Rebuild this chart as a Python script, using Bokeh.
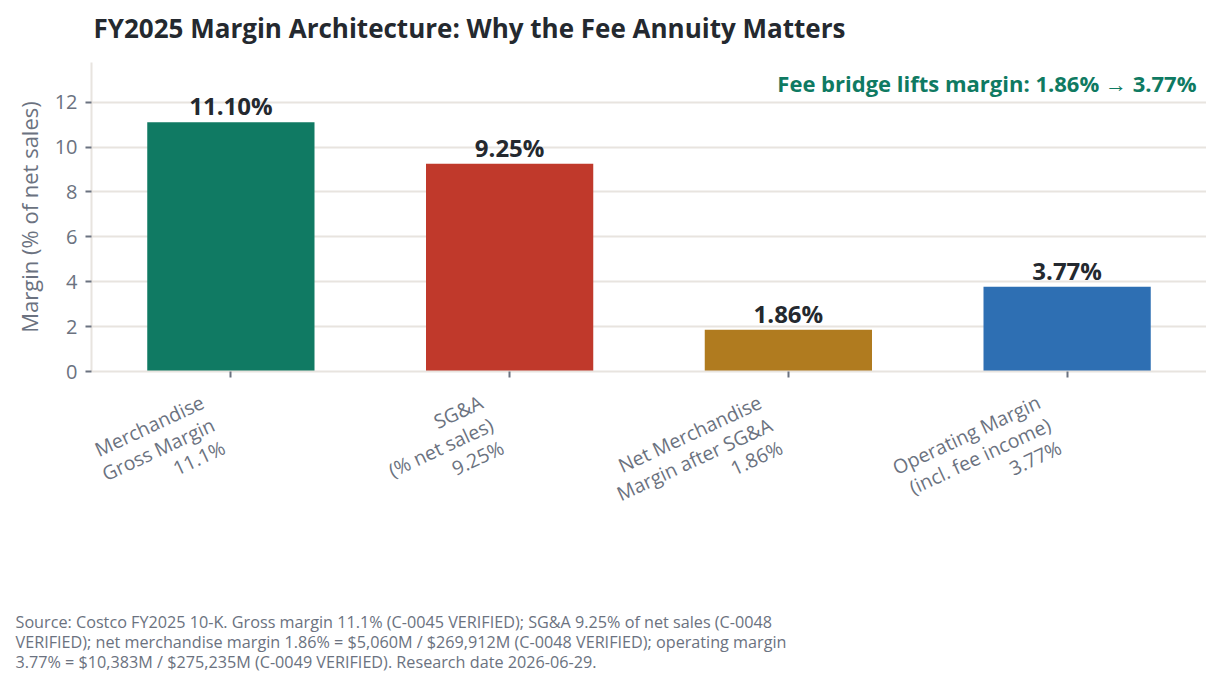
import math
from bokeh.plotting import figure
from bokeh.layouts import column
from bokeh.models import ColumnDataSource, Label, LabelSet, FactorRange, Range1d, Title
from bokeh.core.properties import value
from bokeh.embed import file_html
from bokeh.resources import INLINE

categories = ["Merchandise Gross Margin", "SG&A", "Net Merchandise Margin", "Operating Margin"]
tick_labels = ["Merchandise\nGross Margin\n11.1%", "SG&A\n(% net sales)\n9.25%",
               "Net Merchandise\nMargin after SG&A\n1.86%", "Operating Margin\n(incl. fee income)\n3.77%"]
values = [11.10, 9.25, 1.86, 3.77]
bar_colors = ["#107a63", "#c0392b", "#b07b1f", "#2e6fb3"]
yticks = [0, 2, 4, 6, 8, 10, 12]
title_text = "FY2025 Margin Architecture: Why the Fee Annuity Matters"
note_text = "Fee bridge lifts margin: 1.86% \u2192 3.77%"
source_lines = [
    "Source: Costco FY2025 10-K. Gross margin 11.1% (C-0045 VERIFIED); SG&A 9.25% of net sales (C-0048",
    "VERIFIED); net merchandise margin 1.86% = $5,060M / $269,912M (C-0048 VERIFIED); operating margin",
    "3.77% = $10,383M / $275,235M (C-0049 VERIFIED). Research date 2026-06-29.",
]

FONT = "Open Sans"
GRAY = "#6b7280"
DARK = "#24292f"
LIGHT = "#e8e4df"
W = 1206
LEFT = 91
HEAD_H, MAIN_H, STRIP_H = 62, 321, 290
ANGLE = math.radians(25)
LINE_STEP = 25  # px between rotated label lines

# header
head = figure(width=W, height=HEAD_H, x_range=(0, 1), y_range=(0, 1), output_backend="svg",
              toolbar_location=None, x_axis_location=None, y_axis_location=None,
              min_border_left=LEFT, min_border_right=0, min_border_top=0, min_border_bottom=0)
head.outline_line_color = None
head.grid.visible = False
head.add_layout(Label(x=2, y=35, x_units="screen", y_units="screen", text=title_text,
                      text_align="left", text_baseline="alphabetic", text_font=FONT,
                      text_font_size="26px", text_font_style="bold", text_color=DARK))

# main chart
split = [t.split("\n") for t in tick_labels]
src = ColumnDataSource(dict(cat=categories, val=values, color=bar_colors,
                            l0=[s[0] for s in split], l1=[s[1] for s in split],
                            l2=[s[2] for s in split],
                            lab=[f"{v:.2f}%" for v in values]))
y_top = max(values) * 1.24

p = figure(x_range=FactorRange(*categories), y_range=Range1d(0, y_top),
           width=W, height=MAIN_H, output_backend="svg", toolbar_location=None,
           min_border_left=LEFT, min_border_right=0, min_border_top=0, min_border_bottom=12)

p.vbar(x="cat", top="val", width=0.6, color="color", source=src, line_color=None)
p.text(x="cat", y="val", text="lab", source=src, text_align="center", text_baseline="bottom",
       text_font=value(FONT), text_font_size="24px", text_font_style="bold",
       text_color=DARK)

p.add_layout(Label(x=len(categories), y=y_top, x_offset=-10, y_offset=-20,
                   text=note_text, text_align="right", text_baseline="alphabetic",
                   text_font=FONT, text_font_size="22px", text_font_style="bold",
                   text_color="#0f7a62"))

p.outline_line_color = None
p.xgrid.grid_line_color = None
p.ygrid.grid_line_color = LIGHT
p.ygrid.grid_line_width = 2
p.yaxis.ticker = yticks
p.yaxis.axis_label = "Margin (% of net sales)"
p.yaxis.axis_label_text_font = FONT
p.yaxis.axis_label_text_font_size = "22px"
p.yaxis.axis_label_text_font_style = "normal"
p.yaxis.axis_label_text_color = GRAY
p.yaxis.axis_label_standoff = 8
for ax in (p.xaxis, p.yaxis):
    ax.axis_line_color = LIGHT
    ax.axis_line_width = 2
    ax.major_tick_line_color = GRAY
    ax.major_tick_line_width = 2
    ax.major_tick_out = 6
    ax.major_tick_in = 0
    ax.minor_tick_line_color = None
    ax.major_label_text_font = FONT
    ax.major_label_text_color = GRAY
p.yaxis.major_label_text_font_size = "20px"
p.yaxis.major_label_standoff = 8
p.xaxis.major_label_text_font_size = "0px"
p.xaxis.major_label_text_color = None
p.xaxis.major_label_standoff = 0

# rotated, right-aligned category labels, sharing the chart's category scale
strip = figure(x_range=p.x_range, y_range=Range1d(0, 1), width=W, height=STRIP_H,
               output_backend="svg", toolbar_location=None, x_axis_location=None,
               y_axis_location=None, min_border_left=LEFT, min_border_right=0,
               min_border_top=0, min_border_bottom=64)
strip.outline_line_color = None
strip.grid.visible = False
for k, col in enumerate(["l0", "l1", "l2"]):
    strip.add_layout(LabelSet(x="cat", y=1, text=col, source=src, angle=ANGLE,
                              text_align="right", text_baseline="top",
                              x_offset=-34 + k * LINE_STEP * math.sin(ANGLE),
                              y_offset=-5 - k * LINE_STEP * math.cos(ANGLE),
                              text_font=value(FONT), text_font_size="19.5px",
                              text_color=GRAY))

strip.add_layout(Title(text="\n".join(source_lines), align="left", offset=15 - LEFT,
                       text_font=FONT, text_font_size="16.2px", text_font_style="normal",
                       text_color=GRAY, text_line_height=0.915, standoff=0), "below")

layout = column(head, p, strip, spacing=0)
open("out.html", "w").write(file_html(layout, INLINE))
